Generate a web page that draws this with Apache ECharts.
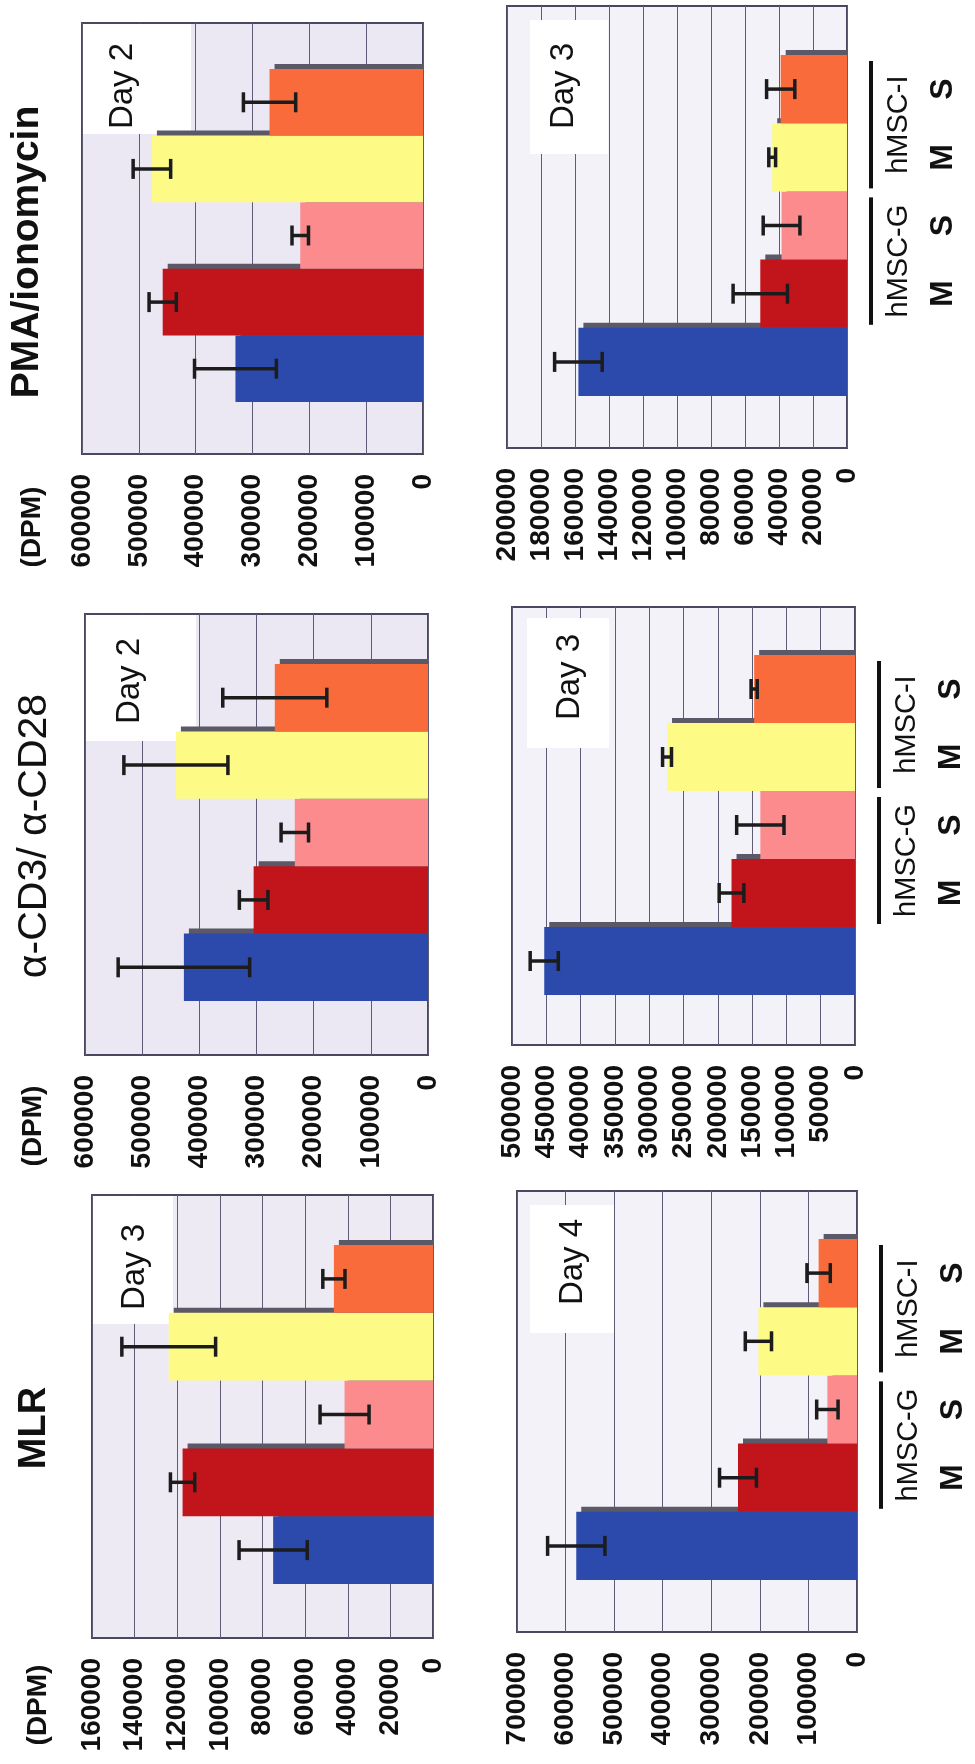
<!DOCTYPE html>
<html>
<head>
<meta charset="utf-8">
<script src="https://cdn.jsdelivr.net/npm/echarts@6/dist/echarts.min.js"></script>
<style>
html,body{margin:0;padding:0;background:#ffffff;}
#chart{width:975px;height:1764px;}
</style>
</head>
<body>
<div id="chart"></div>
<script>
// ---------------- data ----------------
const categories = ['Control', 'hMSC-G M', 'hMSC-G S', 'hMSC-I M', 'hMSC-I S'];
const barColors = ['#2b4aac', '#c2151b', '#fc8b8d', '#fdfb86', '#f96b3b'];
const groupLabels = ['hMSC-G', 'hMSC-I'];
const groupMembers = [[1, 2], [3, 4]];
const titles = ['PMA/ionomycin', 'α-CD3/ α-CD28', 'MLR'];
const unitLabel = '(DPM)';
const dayLabels = ['Day 2', 'Day 2', 'Day 3', 'Day 3', 'Day 3', 'Day 4'];

// PMA/ionomycin
const pmaDay2 = [330000, 458000, 216000, 477000, 270000];
const pmaDay2Err = [72000, 24000, 14500, 33000, 46000];
const pmaDay2Ticks = [0, 100000, 200000, 300000, 400000, 500000, 600000];
const pmaDay3 = [158000, 51000, 38500, 44000, 39000];
const pmaDay3Err = [14000, 16000, 10800, 2000, 8300];
const pmaDay3Ticks = [0, 20000, 40000, 60000, 80000, 100000, 120000, 140000, 160000, 180000, 200000];

// anti-CD3 / anti-CD28
const cd3Day2 = [427000, 305000, 233000, 441000, 268000];
const cd3Day2Err = [115000, 25000, 24000, 91000, 91000];
const cd3Day2Ticks = [0, 100000, 200000, 300000, 400000, 500000, 600000];
const cd3Day3 = [453000, 180000, 138000, 274000, 147000];
const cd3Day3Err = [20500, 18000, 34500, 6500, 4500];
const cd3Day3Ticks = [0, 50000, 100000, 150000, 200000, 250000, 300000, 350000, 400000, 450000, 500000];

// MLR
const mlrDay3 = [75000, 117500, 41500, 124000, 46500];
const mlrDay3Err = [16000, 5700, 11500, 22000, 5200];
const mlrDay3Ticks = [0, 20000, 40000, 60000, 80000, 100000, 120000, 140000, 160000];
const mlrDay4 = [578000, 245000, 61000, 203000, 79000];
const mlrDay4Err = [59000, 38000, 22000, 27000, 24000];
const mlrDay4Ticks = [0, 100000, 200000, 300000, 400000, 500000, 600000, 700000];

// ---------------- layout ----------------
const FONT = '"Liberation Sans", Arial, Helvetica, sans-serif';
const panels = [
  {values: pmaDay2, errors: pmaDay2Err, ticks: pmaDay2Ticks, day: dayLabels[0], right: false,
   frame: [82, 23, 341, 431], band: [69, 333], bg: '#ebe7f3', dayAt: [123, 86], dayBox: [83, 24, 108, 110],
   title: titles[0], titleAt: [27, 252], titleWeight: 'bold', titleSize: 39, unitAt: [32, 527]},
  {values: cd3Day2, errors: cd3Day2Err, ticks: cd3Day2Ticks, day: dayLabels[1], right: false,
   frame: [85, 614, 343, 441], band: [664, 337], bg: '#ebe7f3', dayAt: [130, 681], dayBox: [86, 615, 110, 126],
   title: titles[1], titleAt: [35, 836], titleWeight: 'normal', titleSize: 41, unitAt: [33, 1126]},
  {values: mlrDay3, errors: mlrDay3Err, ticks: mlrDay3Ticks, day: dayLabels[2], right: false,
   frame: [92, 1195, 341, 443], band: [1245, 339], bg: '#eeeaf4', dayAt: [135, 1267], dayBox: [93, 1196, 80, 128],
   title: titles[2], titleAt: [35, 1428], titleWeight: 'bold', titleSize: 38, unitAt: [38, 1705]},
  {values: pmaDay3, errors: pmaDay3Err, ticks: pmaDay3Ticks, day: dayLabels[3], right: true,
   frame: [507, 6, 340, 442], band: [55, 341], bg: '#f3f2f9', dayAt: [564, 86], dayBox: [530, 20, 78, 134]},
  {values: cd3Day3, errors: cd3Day3Err, ticks: cd3Day3Ticks, day: dayLabels[4], right: true,
   frame: [512, 607, 343, 438], band: [655, 340], bg: '#f3f2f9', dayAt: [570, 677], dayBox: [527, 618, 82, 130]},
  {values: mlrDay4, errors: mlrDay4Err, ticks: mlrDay4Ticks, day: dayLabels[5], right: true,
   frame: [517, 1191, 340, 441], band: [1239, 341], bg: '#f3f2f9', dayAt: [573, 1262], dayBox: [530, 1205, 84, 128]}
];

const grids = [], xAxes = [], yAxes = [], series = [], graphics = [];

panels.forEach((p, i) => {
  const gF = 2 * i, gB = 2 * i + 1;
  const tmin = p.ticks[0], tmax = p.ticks[p.ticks.length - 1], step = p.ticks[1] - p.ticks[0];
  grids.push({left: p.frame[0], top: p.frame[1], width: p.frame[2], height: p.frame[3],
    show: true, borderColor: '#4a4860', borderWidth: 2, backgroundColor: p.bg});
  grids.push({left: p.frame[0], top: p.band[0], width: p.frame[2], height: p.band[1], show: false});

  xAxes.push({gridIndex: gF, type: 'value', inverse: true, min: tmin, max: tmax, interval: step,
    axisLine: {show: false}, axisTick: {show: false},
    splitLine: {show: true, lineStyle: {color: '#5e5b76', width: 1}},
    axisLabel: {rotate: 90, margin: 20, fontSize: 28, fontWeight: 'bold', fontFamily: FONT, color: '#111',
      formatter: v => String(v)}});
  yAxes.push({gridIndex: gF, type: 'value', min: 0, max: 1, show: false});

  xAxes.push({gridIndex: gB, type: 'value', inverse: true, min: tmin, max: tmax, show: false});
  yAxes.push({gridIndex: gB, type: 'category', data: categories, position: 'right',
    axisLine: {show: false}, axisTick: {show: false}, splitLine: {show: false},
    axisLabel: {show: p.right, rotate: 90, margin: 80, fontSize: 32, fontWeight: 'bold', fontFamily: FONT, color: '#111',
      formatter: v => (v.indexOf(' ') >= 0 ? v.split(' ')[1] : '')}});

  // depth shadow strips behind bars
  series.push({type: 'custom', xAxisIndex: gB, yAxisIndex: gB, z: 1, animation: false, silent: true,
    encode: {y: 0, x: 1},
    data: p.values.map((v, k) => [k, v]),
    renderItem: (params, api) => {
      const k = api.value(0);
      const pv = api.coord([api.value(1), k]);
      const pz = api.coord([0, k]);
      const band = api.size([0, 1])[1];
      const x1 = pv[0] + 5;
      return {type: 'rect', shape: {x: x1, y: pv[1] - band / 2 - 5, width: Math.max(0, pz[0] - x1), height: band},
        style: {fill: '#5b5967'}};
    }});

  series.push({type: 'bar', xAxisIndex: gB, yAxisIndex: gB, barCategoryGap: '0%', z: 2,
    data: p.values.map((v, k) => ({value: v, itemStyle: {color: barColors[k]}})),
    silent: true, animation: false});

  series.push({type: 'custom', xAxisIndex: gB, yAxisIndex: gB, z: 5, animation: false, silent: true,
    encode: {y: 0, x: [1, 2]},
    data: p.values.map((v, k) => [k, v - p.errors[k], v + p.errors[k]]),
    renderItem: (params, api) => {
      const c = api.value(0);
      const a = api.coord([api.value(1), c]);
      const b = api.coord([api.value(2), c]);
      const h = 10;
      const st = {stroke: '#1c1c1c', lineWidth: 3.5};
      return {type: 'group', children: [
        {type: 'line', shape: {x1: a[0], y1: a[1], x2: b[0], y2: b[1]}, style: st},
        {type: 'line', shape: {x1: a[0], y1: a[1] - h, x2: a[0], y2: a[1] + h}, style: st},
        {type: 'line', shape: {x1: b[0], y1: b[1] - h, x2: b[0], y2: b[1] + h}, style: st}
      ]};
    }});

  if (p.right) {
    series.push({type: 'custom', xAxisIndex: gB, yAxisIndex: gB, z: 5, animation: false, silent: true, clip: false,
      encode: {y: [0, 1], x: 2},
      data: groupMembers.map((m, gi) => [m[0], m[1], gi]),
      renderItem: (params, api) => {
        const a = api.coord([0, api.value(0)]);
        const b = api.coord([0, api.value(1)]);
        const band = api.size([0, 1])[1];
        const yBot = Math.max(a[1], b[1]) + band / 2 - 3;
        const yTop = Math.min(a[1], b[1]) - band / 2 + 6;
        const x0 = a[0];
        return {type: 'group', children: [
          {type: 'line', shape: {x1: x0 + 24, y1: yTop, x2: x0 + 24, y2: yBot}, style: {stroke: '#111', lineWidth: 4}},
          {type: 'text', x: x0 + 52, y: (yTop + yBot) / 2, rotation: Math.PI / 2,
            style: {text: groupLabels[api.value(2)], fontSize: 29, fontFamily: FONT, fill: '#111',
              align: 'center', verticalAlign: 'middle'}}
        ]};
      }});
  }

  // Day label box + text
  graphics.push({type: 'rect', z: 1, silent: true,
    shape: {x: p.dayBox[0], y: p.dayBox[1], width: p.dayBox[2], height: p.dayBox[3]},
    style: {fill: '#ffffff'}});
  graphics.push({type: 'text', z: 100, silent: true, x: p.dayAt[0], y: p.dayAt[1], rotation: Math.PI / 2,
    style: {text: p.day, fontSize: 33, fontFamily: FONT, fill: '#111', align: 'center', verticalAlign: 'middle'}});

  if (p.title) {
    graphics.push({type: 'text', z: 100, silent: true, x: p.titleAt[0], y: p.titleAt[1], rotation: Math.PI / 2,
      style: {text: p.title, fontSize: p.titleSize, fontWeight: p.titleWeight, fontFamily: FONT, fill: '#111',
        align: 'center', verticalAlign: 'middle'}});
    graphics.push({type: 'text', z: 100, silent: true, x: p.unitAt[0], y: p.unitAt[1], rotation: Math.PI / 2,
      style: {text: unitLabel, fontSize: 28, fontWeight: 'bold', fontFamily: FONT, fill: '#111',
        align: 'center', verticalAlign: 'middle'}});
  }
});

const chart = echarts.init(document.getElementById('chart'), null, {renderer: 'canvas', width: 975, height: 1764});
chart.setOption({
  animation: false,
  backgroundColor: '#ffffff',
  grid: grids,
  xAxis: xAxes,
  yAxis: yAxes,
  series: series,
  graphic: {elements: graphics}
});
</script>
</body>
</html>
